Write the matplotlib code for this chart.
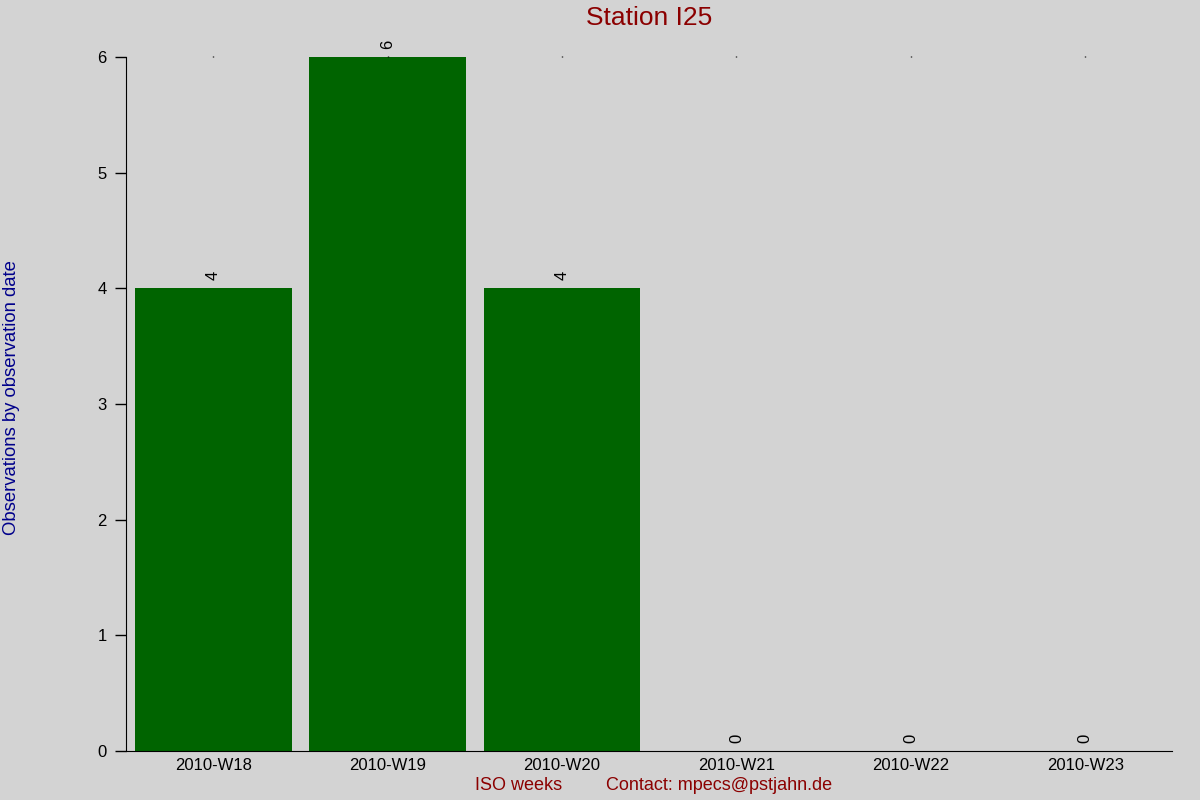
import matplotlib
matplotlib.use('Agg')
import matplotlib.pyplot as plt

plt.rcParams['font.family'] = ['Liberation Sans', 'DejaVu Sans']

weeks = ['2010-W18', '2010-W19', '2010-W20', '2010-W21', '2010-W22', '2010-W23']
counts = [4, 6, 4, 0, 0, 0]

fig = plt.figure(figsize=(12, 8), dpi=100, facecolor='#d3d3d3')
ax = fig.add_axes([0.105, 0.06125, 0.872, 0.8675])
ax.set_facecolor('#d3d3d3')

x = list(range(len(weeks)))
ax.bar(x, counts, width=0.9, color='#006400')

# value labels above the bars
for xi, c in zip(x, counts):
    ax.annotate(str(c), (xi, c), xytext=(0, 6), textcoords='offset points',
                rotation=90, ha='center', va='bottom', fontsize=12)

ax.set_xlim(-0.5, 5.5)
ax.set_ylim(0, 6)
ax.set_xticks(x)
ax.set_xticklabels(weeks, fontsize=12)
ax.tick_params(axis='x', bottom=False, top=True, length=1, width=1,
               labelbottom=True, labeltop=False, pad=4)
ax.tick_params(axis='y', length=8, width=1, labelsize=12, pad=6)

for s in ['top', 'right']:
    ax.spines[s].set_visible(False)

fig.text(0.541, 0.977, 'Station I25', color='#8b0000', fontsize=19,
         ha='center', va='center')
fig.text(0.4325, 0.0175, 'ISO weeks', color='#8b0000', fontsize=13,
         ha='center', va='center')
fig.text(0.599, 0.0175, 'Contact: mpecs@pstjahn.de', color='#8b0000', fontsize=13,
         ha='center', va='center')
fig.text(0.0095, 0.503, 'Observations by observation date', color='#00008b',
         fontsize=13.3, rotation=90, ha='center', va='center')

fig.savefig('out.png', dpi=100, facecolor=fig.get_facecolor())
